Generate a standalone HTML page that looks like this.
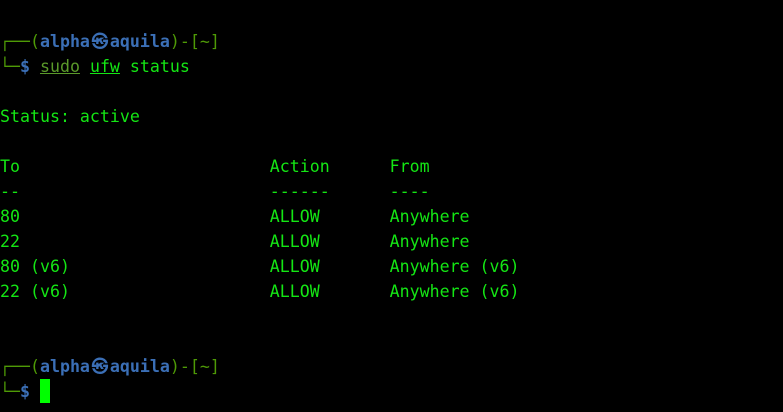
<!DOCTYPE html>
<html><head><style>
html,body{margin:0;padding:0;background:#000;width:783px;height:412px;overflow:hidden}
.l{position:absolute;left:0;height:25px;line-height:25px;font-family:"DejaVu Sans Mono","Liberation Mono",monospace;font-size:16.6px;color:#14e614;white-space:pre}
.g{color:#4e9a06}.b{color:#3b6fb6;font-weight:bold}.u{text-decoration:underline}
.d{color:#5a9a2a}
.k{display:inline-block;width:20px;text-align:center}
.cur{position:absolute;left:40px;top:379px;width:10px;height:24px;background:#00ff00}
</style></head><body>
<div class="l" style="top:29px"><span class="g">┌──(</span><span class="b">alpha<span class="k">㉿</span>aquila</span><span class="g">)-[~]</span></div>
<div class="l" style="top:54px"><span class="g">└─</span><span class="b">$</span> <span class="u d">sudo</span> <span class="u">ufw</span> status</div>
<div class="l" style="top:104px">Status: active</div>
<div class="l" style="top:154px">To                         Action      From</div>
<div class="l" style="top:179px">--                         ------      ----</div>
<div class="l" style="top:204px">80                         ALLOW       Anywhere</div>
<div class="l" style="top:229px">22                         ALLOW       Anywhere</div>
<div class="l" style="top:254px">80 (v6)                    ALLOW       Anywhere (v6)</div>
<div class="l" style="top:279px">22 (v6)                    ALLOW       Anywhere (v6)</div>
<div class="l" style="top:354px"><span class="g">┌──(</span><span class="b">alpha<span class="k">㉿</span>aquila</span><span class="g">)-[~]</span></div>
<div class="l" style="top:379px"><span class="g">└─</span><span class="b">$</span></div>
<div class="cur"></div>
</body></html>
